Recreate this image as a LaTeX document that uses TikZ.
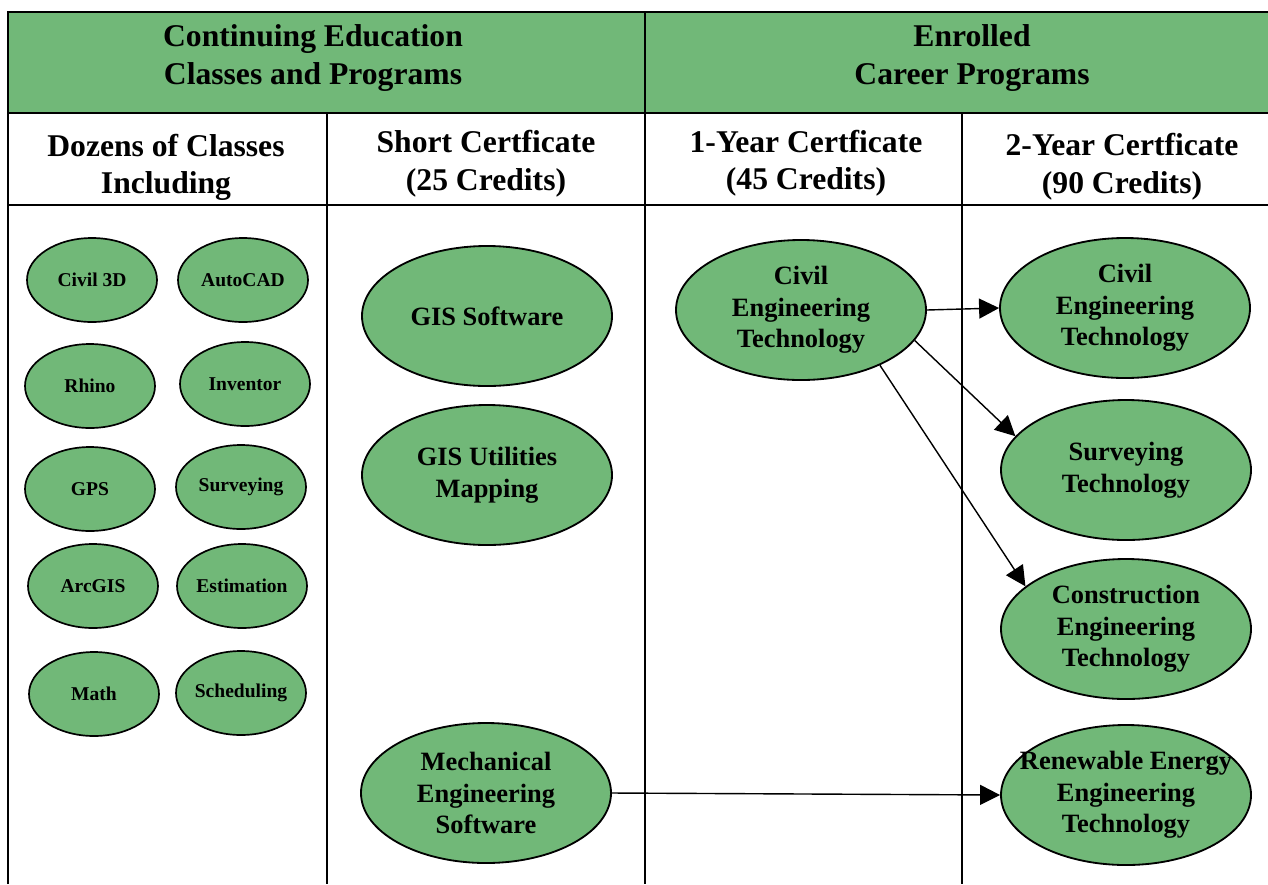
\documentclass[tikz,border=0pt]{standalone}
\usepackage{fontspec}
\setmainfont{Liberation Serif}
\usepackage{xcolor}
\usepackage{tikz}
\usetikzlibrary{shapes.geometric,arrows.meta}
\definecolor{pgreen}{RGB}{113,184,120}

\begin{document}
\begin{tikzpicture}[
    head/.style={align=center,font=\bfseries\fontsize{22.5}{26.8}\selectfont},
    bigell/.style={ellipse,draw,line width=1.3pt,fill=pgreen,minimum width=6.25cm,minimum height=3.5cm,inner sep=0pt},
    smallell/.style={ellipse,draw,line width=1.2pt,fill=pgreen,minimum width=3.25cm,minimum height=2.1cm,inner sep=0pt},
    bigtxt/.style={align=center,font=\bfseries\fontsize{18.8}{22.4}\selectfont},
    smalltxt/.style={font=\bfseries\fontsize{13.9}{16}\selectfont},
    arr/.style={-{Triangle[length=5mm,width=5mm]},line width=1pt}
  ]
    \useasboundingbox (0,0) rectangle (31.7,-22.1);
    % table frame: green top band, row rules, column rules
    \fill[pgreen] (0.2,-0.3) rectangle (31.7,-2.825);
    \draw[line width=2pt] (0.2,-22.1) -- (0.2,-0.3) -- (31.7,-0.3);
    \draw[line width=2pt] (0.2,-2.825) -- (31.7,-2.825);
    \draw[line width=2pt] (0.2,-5.125) -- (31.7,-5.125);
    \draw[line width=1.5pt] (16.125,-0.3) -- (16.125,-22.1);
    \foreach \x in {8.175,24.05} {
      \draw[line width=1.3pt] (\x,-2.825) -- (\x,-22.1);
    }
    % headings
    \node[head] (ce)  at (7.825,-1.45) {Continuing Education\\Classes and Programs};
    \node[head] (ecp) at (24.3,-1.45)  {Enrolled\\Career Programs};
    \node[head] (doz) at (4.15,-4.18)   {Dozens of Classes\\Including};
    \node[head] (sc)  at (12.15,-4.1)   {Short Certficate\\(25 Credits)};
    \node[head] (oy)  at (20.15,-4.08)  {1-Year Certficate\\(45 Credits)};
    \node[head] (ty)  at (28.05,-4.16)  {2-Year Certficate\\(90 Credits)};
    % single classes, two per row
    \foreach \n/\x/\y/\t in {c3d/2.3/-7.0/Civil 3D, acad/6.075/-7.0/AutoCAD,
        rhino/2.25/-9.65/Rhino, inv/6.125/-9.6/Inventor,
        gps/2.25/-12.225/GPS, csurv/6.025/-12.175/Surveying,
        arc/2.325/-14.65/ArcGIS, est/6.05/-14.65/Estimation,
        math/2.35/-17.35/Math, sched/6.025/-17.325/Scheduling} {
      \node[smallell] (\n) at (\x,\y) {};
      \node[smalltxt] (\n-t) at (\n) {\t};
    }
    % short certificates
    \node[bigell] (gis) at (12.175,-7.9) {};
    \node[bigtxt] (gis-t) at (gis) {GIS Software};
    \node[bigell] (gisu) at (12.175,-11.875) {};
    \node[bigtxt] (gisu-t) at (gisu) {GIS Utilities\\Mapping};
    \node[bigell] (mech) at (12.15,-19.825) {};
    \node[bigtxt] (mech-t) at (mech) {Mechanical\\Engineering\\Software};
    % one-year and two-year programs
    \node[bigell] (civ1) at (20.025,-7.75) {};
    \node[bigtxt] (civ1-t) at (civ1) {Civil\\Engineering\\Technology};
    \node[bigell] (civ2) at (28.125,-7.7) {};
    \node[bigtxt] (civ2-t) at (civ2) {Civil\\Engineering\\Technology};
    \node[bigell] (surv) at (28.15,-11.75) {};
    \node[bigtxt] (surv-t) at (surv) {Surveying\\Technology};
    \node[bigell] (cons) at (28.15,-15.725) {};
    \node[bigtxt] (cons-t) at (cons) {Construction\\Engineering\\Technology};
    \node[bigell] (renew) at (28.15,-19.875) {};
    \node[bigtxt] (renew-t) at (renew) {Renewable Energy\\Engineering\\Technology};
    % pathways
    \draw[arr] (civ1.east) -- (civ2.west);
    \draw[arr] (civ1.-15) -- (surv.163);
    \draw[arr] (civ1.-35) -- (cons.157);
    \draw[arr] (mech.east) -- (renew.west);
\end{tikzpicture}
\end{document}
